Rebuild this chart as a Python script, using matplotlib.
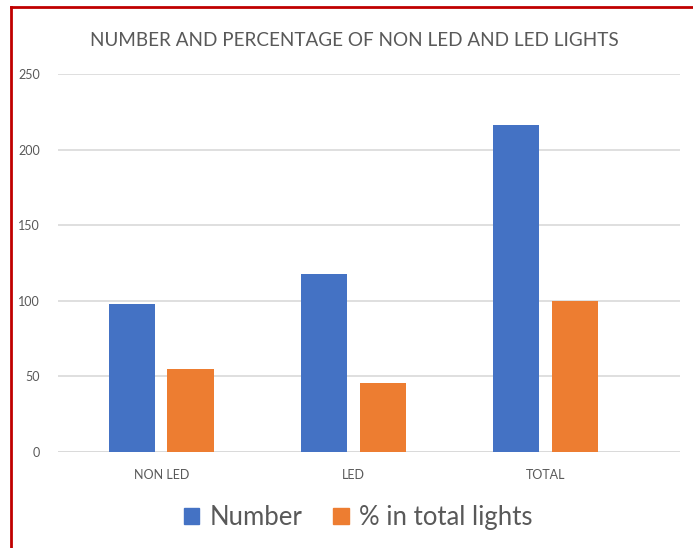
import matplotlib
matplotlib.use('Agg')
import matplotlib.pyplot as plt
import numpy as np
from matplotlib.lines import Line2D

plt.rcParams['font.family'] = ['Lato', 'DejaVu Sans']

categories = ['NON LED', 'LED', 'TOTAL']
number = [98, 118, 216]
pct_total = [54.6, 45.4, 100]
series_names = ['Number', '% in total lights']
yticks = [0, 50, 100, 150, 200, 250]

blue = '#4472c4'
orange = '#ed7d31'
text_col = '#595959'
grid_col = '#d9d9d9'

fig = plt.figure(figsize=(6.93, 5.48), dpi=100)
ax = fig.add_axes([0.0837, 0.1752, 0.8973, 0.6898])

x = np.arange(len(categories))
w = 0.240
off = 0.152
ax.bar(x - off, number, w, color=blue, label=series_names[0], zorder=3)
ax.bar(x + off, pct_total, w, color=orange, label=series_names[1], zorder=3)

ax.set_xlim(-0.538, 2.70)
ax.set_ylim(0, 250)
ax.set_yticks(yticks)
ax.yaxis.grid(True, color=grid_col, linewidth=1.2, zorder=0)
ax.set_axisbelow(True)
for s in ax.spines.values():
    s.set_visible(False)
ax.axhline(0, color=grid_col, linewidth=1.2, zorder=2)
ax.set_xticks(x)
ax.set_xticklabels(categories)
ax.tick_params(axis='both', length=0, colors=text_col, labelsize=9)
ax.tick_params(axis='y', pad=13)
ax.tick_params(axis='x', pad=12)

fig.text(0.512, 0.927, 'NUMBER AND PERCENTAGE OF NON LED AND LED LIGHTS',
         ha='center', va='center', fontsize=13.6, color=text_col)

handles = [plt.Rectangle((0, 0), 1, 1, color=blue), plt.Rectangle((0, 0), 1, 1, color=orange)]
fig.legend(handles, series_names, loc='center', bbox_to_anchor=(0.517, 0.056), ncol=2,
           frameon=False, fontsize=18.5, labelcolor=text_col, handlelength=0.6, handleheight=0.6,
           handletextpad=0.4, columnspacing=1.2)

# red frame around the chart area
fig.add_artist(Line2D([11 / 693, 11 / 693], [0, 1 - 7 / 548], color='#c00000', linewidth=2))
fig.add_artist(Line2D([11 / 693, 1], [1 - 7 / 548, 1 - 7 / 548], color='#c00000', linewidth=2))

fig.savefig('out.png', dpi=100)
